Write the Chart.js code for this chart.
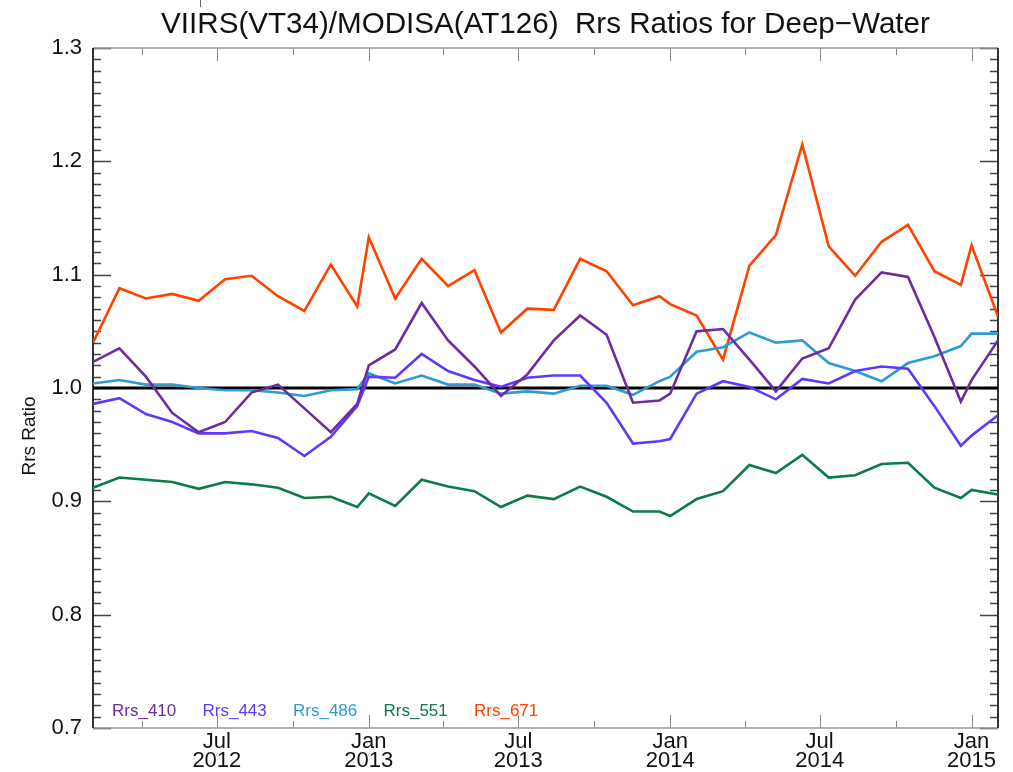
<!DOCTYPE html>
<html>
<head>
<meta charset="utf-8">
<script src="https://cdn.jsdelivr.net/npm/chart.js@4/dist/chart.umd.min.js"></script>
<style>
  html, body { margin: 0; padding: 0; background: #fff; }
  #wrap { width: 1013px; height: 772px; }
</style>
</head>
<body>
<div id="wrap"><canvas id="ratioChart" width="1013" height="772"></canvas></div>
<script>
// --- DATA (32-day composite periods, start dates) ---
const periodDates = [
  '2012-02-02','2012-03-05','2012-04-06','2012-05-08','2012-06-09','2012-07-11','2012-08-12','2012-09-13','2012-10-15','2012-11-16','2012-12-18',
  '2013-01-01','2013-02-02','2013-03-06','2013-04-07','2013-05-09','2013-06-10','2013-07-12','2013-08-13','2013-09-14','2013-10-16','2013-11-17','2013-12-19',
  '2014-01-01','2014-02-02','2014-03-06','2014-04-07','2014-05-09','2014-06-10','2014-07-12','2014-08-13','2014-09-14','2014-10-16','2014-11-17','2014-12-19',
  '2015-01-01','2015-02-02'
];

const rrs410 = [1.023,1.035,1.010,0.978,0.961,0.970,0.996,1.003,0.982,0.961,0.986,1.020,
                1.034,1.075,1.042,1.019,0.993,1.012,1.042,1.064,1.047,0.987,0.989,0.995,
                1.050,1.052,1.025,0.997,1.026,1.035,1.078,1.102,1.098,1.045,0.988,1.007,1.042];
const rrs443 = [0.986,0.991,0.977,0.970,0.960,0.960,0.962,0.956,0.940,0.957,0.984,1.010,
                1.009,1.030,1.015,1.007,1.001,1.009,1.011,1.011,0.987,0.951,0.953,0.955,
                0.995,1.006,1.001,0.990,1.008,1.004,1.015,1.019,1.017,0.984,0.949,0.958,0.976];
const rrs486 = [1.004,1.007,1.003,1.003,1.000,0.998,0.998,0.996,0.993,0.998,0.999,1.013,
                1.004,1.011,1.003,1.003,0.995,0.997,0.995,1.002,1.002,0.994,1.006,1.010,
                1.032,1.036,1.049,1.040,1.042,1.022,1.015,1.006,1.022,1.028,1.037,1.048,1.048];
const rrs551 = [0.912,0.921,0.919,0.917,0.911,0.917,0.915,0.912,0.903,0.904,0.895,0.907,
                0.896,0.919,0.913,0.909,0.895,0.905,0.902,0.913,0.904,0.891,0.891,0.887,
                0.902,0.909,0.932,0.925,0.941,0.921,0.923,0.933,0.934,0.912,0.903,0.910,0.906];
const rrs671 = [1.040,1.088,1.079,1.083,1.077,1.096,1.099,1.081,1.068,1.109,1.072,1.133,
                1.079,1.114,1.090,1.104,1.049,1.070,1.069,1.114,1.103,1.073,1.081,1.074,
                1.064,1.025,1.108,1.135,1.215,1.125,1.099,1.129,1.144,1.103,1.091,1.126,1.063];

const seriesLabels = ['Rrs_410', 'Rrs_443', 'Rrs_486', 'Rrs_551', 'Rrs_671'];
const seriesColors = ['#6b2c9f', '#6236ff', '#2e9ad6', '#0b7b48', '#ff4200'];

// axis ticks
const xTickDates = ['2012-04-01','2012-07-01','2012-10-01','2013-01-01','2013-04-01','2013-07-01',
                    '2013-10-01','2014-01-01','2014-04-01','2014-07-01','2014-10-01','2015-01-01'];
const xTickLabels = ['', ['Jul','2012'], '', ['Jan','2013'], '', ['Jul','2013'],
                     '', ['Jan','2014'], '', ['Jul','2014'], '', ['Jan','2015']];
const yTicks = [0.7, 0.8, 0.9, 1.0, 1.1, 1.2, 1.3];
const xRange = ['2012-02-02', '2015-02-02'];
const refValue = 1.0;

const FONT = "'Liberation Sans', Arial, Helvetica, sans-serif";

// days since 2012-01-01
function dayNum(s) {
    const [y, m, d] = s.split('-').map(Number);
    return (Date.UTC(y, m - 1, d) - Date.UTC(2012, 0, 1)) / 86400000;
}

const xDays = periodDates.map(dayNum);
const allSeries = [rrs410, rrs443, rrs486, rrs551, rrs671];

// --- FRAME, TICKS, REFERENCE LINE, TITLES ---
const framePlugin = {
    id: 'idlFrame',
    beforeDatasetsDraw(chart) {
        const { ctx, chartArea: a, scales: { x, y } } = chart;
        ctx.save();

        // y minor / major ticks (inward, both sides)
        ctx.strokeStyle = '#444';
        ctx.lineWidth = 1.5;
        const yMin = yTicks[0], yMax = yTicks[yTicks.length - 1];
        const steps = Math.round((yMax - yMin) / 0.01);
        for (let i = 0; i <= steps; i++) {
            const py = Math.round(y.getPixelForValue(yMin + i * 0.01)) + 0.5;
            const len = i % 10 === 0 ? 18 : 8;
            ctx.beginPath();
            ctx.moveTo(a.left, py); ctx.lineTo(a.left + len, py);
            ctx.moveTo(a.right, py); ctx.lineTo(a.right - len, py);
            ctx.stroke();
        }

        // x ticks (inward, top and bottom)
        ctx.strokeStyle = '#888';
        ctx.lineWidth = 1;
        x.ticks.forEach((t, i) => {
            const px = Math.round(x.getPixelForValue(t.value)) + 0.5;
            const len = xTickLabels[i] ? 13 : 7;
            ctx.beginPath();
            ctx.moveTo(px, a.bottom); ctx.lineTo(px, a.bottom - len);
            ctx.moveTo(px, a.top); ctx.lineTo(px, a.top + len);
            ctx.stroke();
        });

        // box
        ctx.strokeStyle = '#999';
        ctx.lineWidth = 1.5;
        ctx.beginPath();
        ctx.moveTo(a.left, a.top); ctx.lineTo(a.right, a.top);
        ctx.moveTo(a.left, a.bottom); ctx.lineTo(a.right, a.bottom);
        ctx.stroke();
        ctx.strokeStyle = '#333';
        ctx.lineWidth = 2;
        ctx.beginPath();
        ctx.moveTo(a.left, a.top); ctx.lineTo(a.left, a.bottom);
        ctx.moveTo(a.right, a.top); ctx.lineTo(a.right, a.bottom);
        ctx.stroke();

        // reference line at 1.0
        const ry = y.getPixelForValue(refValue);
        ctx.strokeStyle = '#000';
        ctx.lineWidth = 3;
        ctx.beginPath();
        ctx.moveTo(a.left, ry); ctx.lineTo(a.right, ry);
        ctx.stroke();

        ctx.restore();
    },
    afterDraw(chart) {
        const { ctx, chartArea: a } = chart;
        ctx.save();

        // title
        ctx.fillStyle = '#111';
        ctx.font = `29.6px ${FONT}`;
        ctx.textAlign = 'center';
        ctx.textBaseline = 'alphabetic';
        ctx.fillText('VIIRS(VT34)/MODISA(AT126)  Rrs Ratios for Deep\u2212Water', (a.left + a.right) / 2, 33);

        // little stray tick above title
        ctx.strokeStyle = '#666';
        ctx.lineWidth = 1;
        ctx.beginPath();
        ctx.moveTo(200.5, 0); ctx.lineTo(200.5, 7);
        ctx.stroke();

        // y axis title
        ctx.save();
        ctx.translate(30, 436);
        ctx.rotate(-Math.PI / 2);
        ctx.font = `19px ${FONT}`;
        ctx.textBaseline = 'middle';
        ctx.fillText('Rrs Ratio', 0, 0);
        ctx.restore();

        // in-plot legend
        ctx.font = `17px ${FONT}`;
        ctx.textAlign = 'left';
        ctx.textBaseline = 'alphabetic';
        chart.data.datasets.forEach((ds, i) => {
            ctx.fillStyle = ds.borderColor;
            ctx.fillText(ds.label, a.left + 19 + i * 90.5, a.bottom - 12);
        });

        ctx.restore();
    }
};

// --- CHART ---
const ctx = document.getElementById('ratioChart');
new Chart(ctx, {
    type: 'line',
    data: {
        datasets: allSeries.map((vals, i) => ({
            label: seriesLabels[i],
            data: vals.map((v, j) => ({ x: xDays[j], y: v })),
            borderColor: seriesColors[i],
            backgroundColor: seriesColors[i],
            borderWidth: 2.6,
            pointRadius: 0,
            tension: 0,
            fill: false
        }))
    },
    options: {
        responsive: false,
        animation: false,
        devicePixelRatio: 1,
        layout: { padding: { top: 48, right: 15, left: 0, bottom: 0 } },
        plugins: {
            legend: { display: false },
            title: { display: false },
            tooltip: { enabled: false }
        },
        scales: {
            x: {
                type: 'linear',
                min: dayNum(xRange[0]),
                max: dayNum(xRange[1]),
                grid: { display: false, drawTicks: false },
                border: { display: false },
                afterBuildTicks: (scale) => {
                    scale.ticks = xTickDates.map(d => ({ value: dayNum(d) }));
                },
                afterFit: (scale) => { scale.height = 44; },
                ticks: {
                    autoSkip: false,
                    maxRotation: 0,
                    padding: 4,
                    color: '#111',
                    font: { family: FONT, size: 22, lineHeight: 0.88 },
                    callback: (v, i) => xTickLabels[i]
                }
            },
            y: {
                min: yTicks[0],
                max: yTicks[yTicks.length - 1],
                grid: { display: false, drawTicks: false },
                border: { display: false },
                afterBuildTicks: (scale) => {
                    scale.ticks = yTicks.map(v => ({ value: v }));
                },
                afterFit: (scale) => { scale.width = 93; },
                ticks: {
                    padding: 11,
                    color: '#111',
                    font: { family: FONT, size: 22 },
                    callback: (v) => Number(v).toFixed(1)
                }
            }
        }
    },
    plugins: [framePlugin]
});
</script>
</body>
</html>
